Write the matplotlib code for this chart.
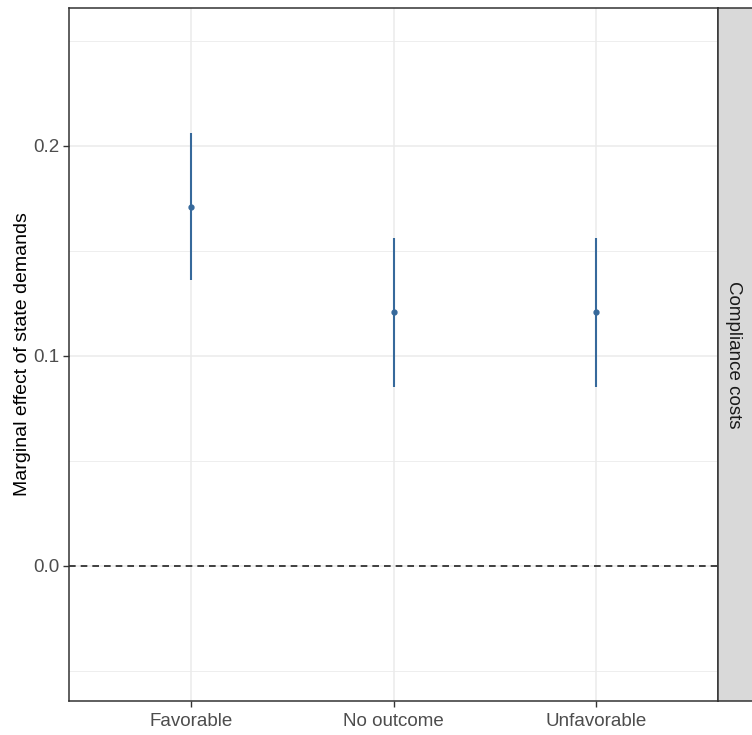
import numpy as np
import matplotlib.pyplot as plt

# data
categories = ["Favorable", "No outcome", "Unfavorable"]
estimates = [0.171, 0.121, 0.121]
lower = [0.136, 0.085, 0.085]
upper = [0.206, 0.156, 0.156]
facet_label = "Compliance costs"

plt.rcParams['font.family'] = ['Liberation Sans', 'DejaVu Sans']

W, H = 752, 735
fig = plt.figure(figsize=(W / 100, H / 100), dpi=100)

# main panel
ax = fig.add_axes([69 / W, 1 - 701 / H, (718 - 69) / W, (701 - 8) / H])
x = np.arange(1, len(categories) + 1)
col = '#36699b'
ax.vlines(x, lower, upper, color=col, lw=1.5, zorder=3)
ax.plot(x, estimates, 'o', color=col, ms=3.5, zorder=4)
ax.axhline(0, color='#222222', ls=(0, (4, 3)), lw=1.2, zorder=2)

ax.set_xlim(0.4, 3.6)
ax.set_ylim(-0.0643, 0.2657)
ax.set_xticks(x)
ax.set_xticklabels(categories)
ax.set_yticks([0.0, 0.1, 0.2])
ax.set_yticklabels(["0.0", "0.1", "0.2"])
ax.set_yticks([-0.05, 0.05, 0.15, 0.25], minor=True)

ax.grid(which='major', color='#ebebeb', lw=1.1)
ax.grid(which='minor', axis='y', color='#ebebeb', lw=0.6)
ax.set_axisbelow(True)
ax.tick_params(axis='both', which='major', length=4, width=1, color='#333333',
               labelcolor='#4d4d4d', labelsize=13.5, pad=5)
ax.tick_params(axis='y', which='major', pad=3)
ax.tick_params(axis='y', which='minor', length=0)
for s in ax.spines.values():
    s.set_color('#333333')
    s.set_linewidth(1.1)
ax.set_ylabel("Marginal effect of state demands", fontsize=14, color='black')
ax.yaxis.set_label_coords(-0.058, 0.5)

# facet strip on the right
sx = fig.add_axes([718 / W, 1 - 701 / H, 40 / W, (701 - 8) / H])
sx.set_facecolor('#d9d9d9')
sx.set_xticks([])
sx.set_yticks([])
for s in sx.spines.values():
    s.set_color('#333333')
    s.set_linewidth(1.1)
sx.text(0.38, 0.5, facet_label, rotation=-90, ha='center', va='center',
        fontsize=13.5, color='#1a1a1a', transform=sx.transAxes)

fig.savefig('out.png', dpi=100)
